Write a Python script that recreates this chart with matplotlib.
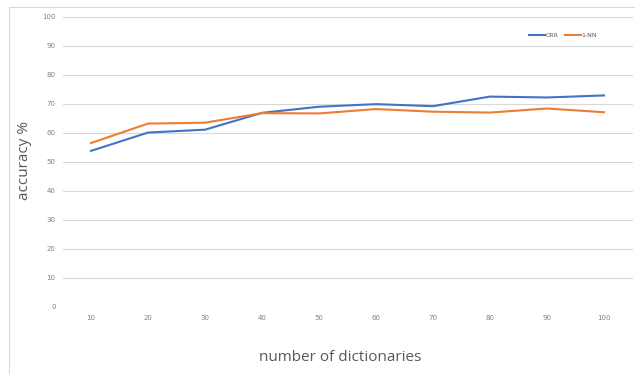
import matplotlib.pyplot as plt
from matplotlib.patches import Rectangle

# data
dictionaries = [10, 20, 30, 40, 50, 60, 70, 80, 90, 100]
crr = [53.7, 60.0, 61.0, 66.8, 68.9, 69.8, 69.1, 72.4, 72.1, 72.8]
nn1 = [56.4, 63.1, 63.4, 66.7, 66.6, 68.1, 67.2, 66.9, 68.3, 67.0]

BLUE = "#4472C4"
ORANGE = "#ED7D31"
GRAY = "#595959"
GRID = "#D9D9D9"

fig = plt.figure(figsize=(6.35, 3.74), dpi=100)
# chart frame
fig.patches.append(Rectangle((9/635, -0.1), 1.0, (374-7)/374 + 0.1, transform=fig.transFigure,
                             fill=False, edgecolor="#D9D9D9", linewidth=0.8))

ax = fig.add_axes([62.5/635, 1-306.7/374, 570/635, 290.2/374])
pos = list(range(len(dictionaries)))
ax.plot(pos, crr, color=BLUE, linewidth=1.5, label="CRR")
ax.plot(pos, nn1, color=ORANGE, linewidth=1.5, label="1-NN")

ax.set_xlim(-0.5, len(dictionaries) - 0.5)
ax.set_ylim(0, 100)
ax.set_yticks(range(0, 101, 10))
ax.set_xticks(pos)
ax.set_xticklabels([str(d) for d in dictionaries])
ax.grid(axis="y", color=GRID, linewidth=0.8)
ax.set_axisbelow(True)
for s in ax.spines.values():
    s.set_visible(False)
ax.tick_params(length=0, labelsize=5, labelcolor="#808080")
ax.tick_params(axis="y", pad=5)
ax.tick_params(axis="x", pad=6)

ax.set_ylabel("accuracy %", fontsize=11, color=GRAY, family="Open Sans")
ax.yaxis.set_label_coords(-31/570, (306.7-160)/290.2)
ax.set_xlabel("number of dictionaries", fontsize=11, color=GRAY, family="Open Sans")
ax.xaxis.set_label_coords((340-62.5)/570, -(350-306.7)/290.2)

leg = ax.legend(loc="center", bbox_to_anchor=((563-62.5)/570, (306.7-35)/290.2),
                ncol=2, frameon=False, fontsize=4.5, handlelength=2.6,
                handletextpad=0.1, columnspacing=1.0)
for t in leg.get_texts():
    t.set_color(GRAY)

fig.savefig("out.png", dpi=100)
